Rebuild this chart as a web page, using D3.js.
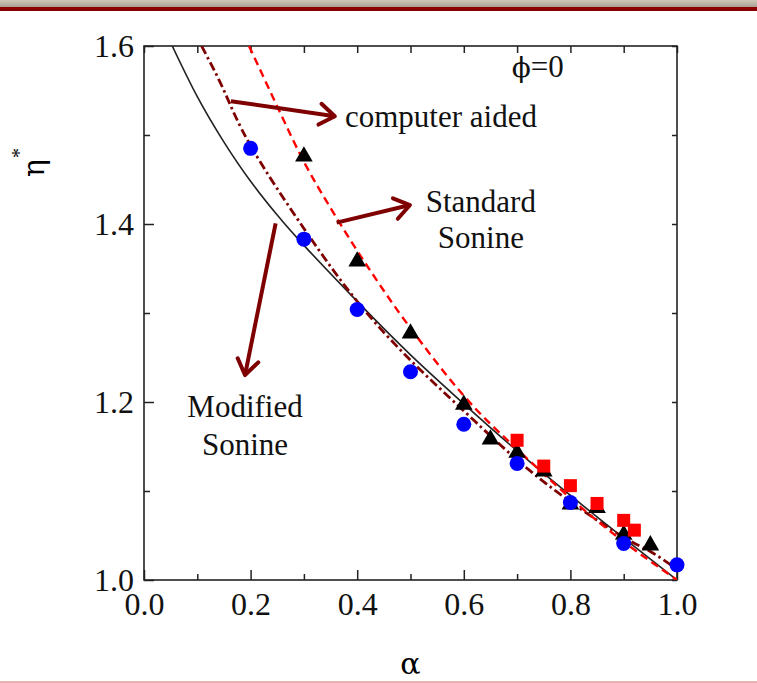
<!DOCTYPE html>
<html>
<head>
<meta charset="utf-8">
<script src="https://cdn.jsdelivr.net/npm/d3@7"></script>
<style>
  body { margin: 0; background: #fff; }
  svg { display: block; font-family: "Liberation Serif", "DejaVu Serif", serif; }
</style>
</head>
<body>
<div id="chart"></div>
<script>
// theory curves (alpha -> eta*)
const modifiedAlpha = [0.053, 0.1, 0.15, 0.2, 0.25, 0.3, 0.4, 0.5, 0.6, 0.7, 0.8, 0.9, 1.0];
const modifiedEta   = [1.600, 1.543, 1.492, 1.448, 1.410, 1.376, 1.313, 1.253, 1.198, 1.145, 1.095, 1.047, 1.000];

const computerAlpha = [0.108, 0.15, 0.2, 0.3, 0.4, 0.5, 0.6, 0.7, 0.8, 0.9, 0.95, 1.0];
const computerEta   = [1.600, 1.550, 1.488, 1.395, 1.313, 1.247, 1.190, 1.135, 1.088, 1.048, 1.032, 1.012];

const standardAlpha = [0.197, 0.25, 0.3, 0.35, 0.4, 0.45, 0.5, 0.6, 0.7, 0.8, 0.9, 1.0];
const standardEta   = [1.600, 1.532, 1.470, 1.418, 1.370, 1.325, 1.283, 1.207, 1.147, 1.092, 1.043, 1.000];

// simulation points
const circleAlpha = [0.2, 0.3, 0.4, 0.5, 0.6, 0.7, 0.8, 0.9, 1.0];
const circleEta   = [1.485, 1.383, 1.304, 1.234, 1.175, 1.131, 1.087, 1.041, 1.017];

const triangleAlpha = [0.3, 0.4, 0.5, 0.6, 0.65, 0.7, 0.75, 0.8, 0.85, 0.9, 0.95];
const triangleEta   = [1.476, 1.358, 1.277, 1.197, 1.158, 1.143, 1.122, 1.085, 1.081, 1.051, 1.039];

const squareAlpha = [0.7, 0.75, 0.8, 0.85, 0.9, 0.92];
const squareEta   = [1.157, 1.128, 1.106, 1.086, 1.067, 1.056];

const xMajor = [0, 0.2, 0.4, 0.6, 0.8, 1.0];
const xMinor = [0.1, 0.3, 0.5, 0.7, 0.9];
const yMajor = [1.0, 1.2, 1.4, 1.6];
const yMinor = [1.1, 1.3, 1.5];

const width = 757, height = 683;
const plot = { left: 144, right: 677, top: 46, bottom: 580 };
const serif = '"Liberation Serif", "DejaVu Serif", serif';
const greek = '"DejaVu Serif", "Liberation Serif", serif';

const x = d3.scaleLinear().domain([0, 1]).range([plot.left, plot.right]);
const y = d3.scaleLinear().domain([1, 1.6]).range([plot.bottom, plot.top]);

const svg = d3.select("#chart")
  .append("svg")
  .attr("width", width)
  .attr("height", height);

const defs = svg.append("defs");

// slide header band
const grad = defs.append("linearGradient")
  .attr("id", "band")
  .attr("x1", 0).attr("y1", 0).attr("x2", 0).attr("y2", 1);
grad.append("stop").attr("offset", "0%").attr("stop-color", "#cfc8b8");
grad.append("stop").attr("offset", "100%").attr("stop-color", "#a9a292");

svg.append("rect").attr("x", 0).attr("y", 0).attr("width", width).attr("height", 7).attr("fill", "url(#band)");
svg.append("rect").attr("x", 0).attr("y", 7).attr("width", width).attr("height", 4).attr("fill", "#8b0000");
svg.append("rect").attr("x", 0).attr("y", 681).attr("width", width).attr("height", 2).attr("fill", "#e6b3b3");

defs.append("clipPath")
  .attr("id", "plot-clip")
  .append("rect")
  .attr("x", plot.left)
  .attr("y", plot.top)
  .attr("width", plot.right - plot.left)
  .attr("height", plot.bottom - plot.top);

defs.append("marker")
  .attr("id", "arrowhead")
  .attr("markerUnits", "userSpaceOnUse")
  .attr("viewBox", "-20 -14 24 28")
  .attr("refX", 0)
  .attr("refY", 0)
  .attr("markerWidth", 24)
  .attr("markerHeight", 28)
  .attr("orient", "auto")
  .append("path")
  .attr("d", "M-15,-10.5L0,0L-15,10.5")
  .attr("fill", "none")
  .attr("stroke", "#7f0000")
  .attr("stroke-width", 4)
  .attr("stroke-linejoin", "round")
  .attr("stroke-linecap", "round");

// axes: ticks point inward
function styleAxis(g) {
  g.select(".domain").remove();
  g.selectAll(".tick line").attr("stroke", "#222").attr("stroke-width", 1.5);
  g.selectAll(".tick text")
    .attr("fill", "#111")
    .style("font-size", "32px")
    .style("font-family", serif);
}

svg.append("g")
  .attr("transform", `translate(0,${plot.bottom})`)
  .call(d3.axisBottom(x).tickValues(xMajor).tickSizeInner(-10).tickSizeOuter(0).tickPadding(12).tickFormat(d3.format(".1f")))
  .call(styleAxis);
svg.append("g")
  .attr("transform", `translate(0,${plot.bottom})`)
  .call(d3.axisBottom(x).tickValues(xMinor).tickSizeInner(-6).tickSizeOuter(0).tickFormat(""))
  .call(styleAxis);
svg.append("g")
  .attr("transform", `translate(0,${plot.top})`)
  .call(d3.axisTop(x).tickValues(xMajor.concat(xMinor)).tickSizeInner(-7).tickSizeOuter(0).tickFormat(""))
  .call(styleAxis);

svg.append("g")
  .attr("transform", `translate(${plot.left},0)`)
  .call(d3.axisLeft(y).tickValues(yMajor).tickSizeInner(-10).tickSizeOuter(0).tickPadding(10).tickFormat(d3.format(".1f")))
  .call(styleAxis);
svg.append("g")
  .attr("transform", `translate(${plot.left},0)`)
  .call(d3.axisLeft(y).tickValues(yMinor).tickSizeInner(-6).tickSizeOuter(0).tickFormat(""))
  .call(styleAxis);
svg.append("g")
  .attr("transform", `translate(${plot.right},0)`)
  .call(d3.axisRight(y).tickValues(yMajor.concat(yMinor)).tickSizeInner(-5).tickSizeOuter(0).tickFormat(""))
  .call(styleAxis);

svg.append("rect")
  .attr("x", plot.left)
  .attr("y", plot.top)
  .attr("width", plot.right - plot.left)
  .attr("height", plot.bottom - plot.top)
  .attr("fill", "none")
  .attr("stroke", "#222")
  .attr("stroke-width", 1.6);

// axis titles
svg.append("text")
  .attr("x", x(0.5))
  .attr("y", 674)
  .attr("text-anchor", "middle")
  .style("font-family", greek)
  .style("font-size", "30px")
  .text("α");

const etaLabel = svg.append("text")
  .attr("transform", "translate(44,177) rotate(-90)")
  .style("font-family", greek)
  .style("font-size", "30px")
  .text("η");
etaLabel.append("tspan")
  .attr("dx", 1)
  .attr("dy", -18)
  .style("font-family", serif)
  .style("font-size", "20px")
  .text("*");

// theory lines
const line = d3.line()
  .x(d => x(d[0]))
  .y(d => y(d[1]))
  .curve(d3.curveNatural);

const lines = svg.append("g").attr("clip-path", "url(#plot-clip)");

lines.append("path")
  .datum(d3.zip(modifiedAlpha, modifiedEta))
  .attr("d", line)
  .attr("fill", "none")
  .attr("stroke", "#222")
  .attr("stroke-width", 1.6);

lines.append("path")
  .datum(d3.zip(computerAlpha, computerEta))
  .attr("d", line)
  .attr("fill", "none")
  .attr("stroke", "#7f0000")
  .attr("stroke-width", 2.8)
  .attr("stroke-dasharray", "9,3.5,2.5,3.5");

lines.append("path")
  .datum(d3.zip(standardAlpha, standardEta))
  .attr("d", line)
  .attr("fill", "none")
  .attr("stroke", "#ff0000")
  .attr("stroke-width", 2.4)
  .attr("stroke-dasharray", "8,5");

// data points
svg.append("g")
  .selectAll("path")
  .data(d3.zip(triangleAlpha, triangleEta))
  .join("path")
  .attr("transform", d => `translate(${x(d[0])},${y(d[1])})`)
  .attr("d", d3.symbol().type(d3.symbolTriangle).size(135))
  .attr("fill", "#000");

svg.append("g")
  .selectAll("path")
  .data(d3.zip(squareAlpha, squareEta))
  .join("path")
  .attr("transform", d => `translate(${x(d[0])},${y(d[1])})`)
  .attr("d", d3.symbol().type(d3.symbolSquare).size(169))
  .attr("fill", "#ff0000");

svg.append("g")
  .selectAll("circle")
  .data(d3.zip(circleAlpha, circleEta))
  .join("circle")
  .attr("cx", d => x(d[0]))
  .attr("cy", d => y(d[1]))
  .attr("r", 7.5)
  .attr("fill", "#0000ff");

// annotations (in data units)
const arrows = [
  { from: [0.163, 1.538], to: [0.358, 1.521] },
  { from: [0.3615, 1.4015], to: [0.499, 1.4213] },
  { from: [0.247, 1.4008], to: [0.1895, 1.2303] }
];

svg.append("g")
  .selectAll("line")
  .data(arrows)
  .join("line")
  .attr("x1", d => x(d.from[0]))
  .attr("y1", d => y(d.from[1]))
  .attr("x2", d => x(d.to[0]))
  .attr("y2", d => y(d.to[1]))
  .attr("stroke", "#7f0000")
  .attr("stroke-width", 4)
  .attr("marker-end", "url(#arrowhead)");

const notes = [
  { text: "computer aided", at: [0.377, 1.509], anchor: "start" },
  { text: "Standard", at: [0.632, 1.4135], anchor: "middle" },
  { text: "Sonine", at: [0.632, 1.3725], anchor: "middle" },
  { text: "Modified", at: [0.1895, 1.1831], anchor: "middle" },
  { text: "Sonine", at: [0.1895, 1.1404], anchor: "middle" }
];

svg.append("g")
  .selectAll("text")
  .data(notes)
  .join("text")
  .attr("x", d => x(d.at[0]))
  .attr("y", d => y(d.at[1]))
  .attr("text-anchor", d => d.anchor)
  .attr("fill", "#111")
  .style("font-size", "31px")
  .text(d => d.text);

// panel label
const phiLabel = svg.append("text")
  .attr("x", x(0.69))
  .attr("y", y(1.5652))
  .attr("fill", "#111")
  .style("font-size", "31px");
phiLabel.append("tspan").style("font-family", greek).style("font-size", "28px").text("ϕ");
phiLabel.append("tspan").text("=0");
</script>
</body>
</html>
